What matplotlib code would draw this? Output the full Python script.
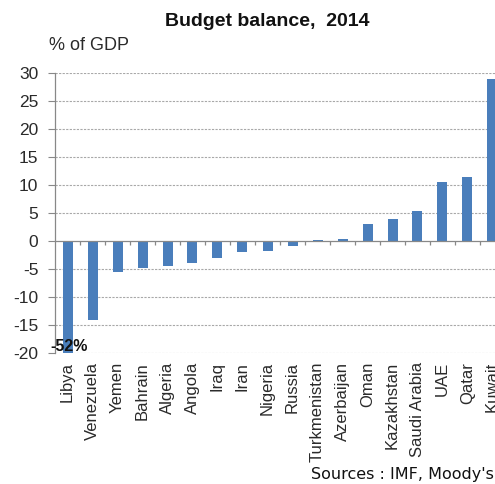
import matplotlib
matplotlib.use("Agg")
import matplotlib.pyplot as plt
import matplotlib.transforms as mtransforms

countries = ["Libya", "Venezuela", "Yemen", "Bahrain", "Algeria", "Angola", "Iraq",
             "Iran", "Nigeria", "Russia", "Turkmenistan", "Azerbaijan", "Oman",
             "Kazakhstan", "Saudi Arabia", "UAE", "Qatar", "Kuwait"]
balance = [-52.0, -14.1, -5.6, -4.9, -4.4, -4.0, -3.0, -2.0, -1.7, -0.9,
           0.2, 0.4, 3.0, 3.9, 5.3, 10.5, 11.5, 29.0]
yticks = [-20, -15, -10, -5, 0, 5, 10, 15, 20, 25, 30]

plt.rcParams['font.family'] = ['Liberation Sans', 'DejaVu Sans']

W, H = 495, 484
fig = plt.figure(figsize=(W / 100, H / 100), dpi=100)
left, right_px = 55, 505
top_px, bot_px = 73, 353
ax = fig.add_axes([left / W, 1 - bot_px / H, (right_px - left) / W, (bot_px - top_px) / H])

x = list(range(len(countries)))
ax.bar(x, balance, width=0.4, color='#4A7EBB', zorder=3)
ax.set_xlim(-0.5, len(countries) - 0.5)
ax.set_ylim(-20, 30)

ax.set_yticks(yticks)
ax.set_yticklabels([str(v) for v in yticks], fontsize=12.5, color='#2a2a2a')
ax.tick_params(axis='y', direction='out', length=5, width=0.8, color='#888888', pad=7)
for v in yticks:
    if v != 0:
        ax.axhline(v, color='#a8a8a8', lw=0.8, ls=(0, (2, 1.2)), zorder=1)

for s in ['top', 'right', 'bottom']:
    ax.spines[s].set_visible(False)
ax.spines['left'].set_color('#888888')
ax.spines['left'].set_linewidth(0.9)

# x axis line at zero with boundary ticks
ax.axhline(0, color='#888888', lw=0.9, zorder=4)
bounds = [i + 0.5 for i in x[:-1]]
ax.vlines(bounds, -0.75, 0, color='#888888', lw=0.9, zorder=4)

ax.set_xticks([])
trans = mtransforms.blended_transform_factory(ax.transData, ax.transAxes)
off = mtransforms.ScaledTranslation(0, -9 / 100, fig.dpi_scale_trans)
for i, c in zip(x, countries):
    ax.text(i, 0, c, transform=trans + off, rotation=90, ha='center', va='top',
            fontsize=12, color='#2a2a2a', clip_on=False)

ax.text(x[0] + 0.08, -20.2, "%d%%" % balance[0], ha='center', va='bottom', fontsize=11.5,
        fontweight='bold', color='#111111', zorder=5)

fig.text(267 / W, 1 - 22 / H, "Budget balance,  2014", ha='center', va='center',
         fontsize=14, fontweight='bold', color='#111111')
fig.text(49 / W, 1 - 46 / H, "% of GDP", ha='left', va='center', fontsize=13, color='#2a2a2a')
fig.text(494 / W, 1 - 479 / H, "Sources : IMF, Moody's", ha='right', va='baseline',
         fontsize=11.5, family='DejaVu Sans', color='#111111')

fig.savefig("out.png", dpi=100)
